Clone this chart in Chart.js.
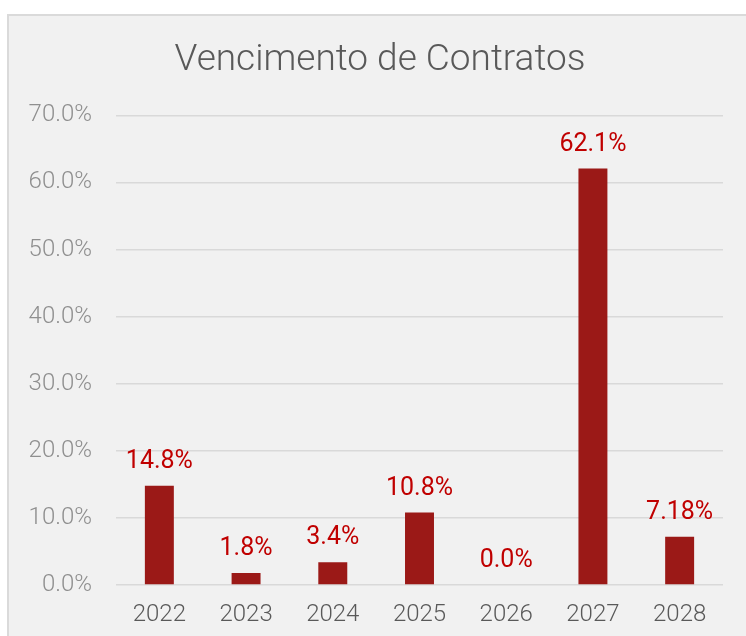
<!DOCTYPE html>
<html>
<head>
<meta charset="utf-8">
<script src="https://cdn.jsdelivr.net/npm/chart.js@4/dist/chart.umd.min.js"></script>
<style>
  html, body { margin: 0; padding: 0; background: #fff; }
  #panel {
    position: absolute; left: 7px; top: 14px; width: 760px; height: 640px;
    background: #f1f1f1; border: 2px solid #dadada; box-sizing: border-box;
  }
  #wrap { position: absolute; left: 0; top: 0; width: 746px; height: 636px; }
</style>
</head>
<body>
<div id="panel"></div>
<div id="wrap"><canvas id="chart" width="746" height="636"></canvas></div>
<script>
// --- 데이터 ---
const years = ["2022", "2023", "2024", "2025", "2026", "2027", "2028"];
const shares = [14.8, 1.8, 3.4, 10.8, 0.0, 62.1, 7.18];
const yTicks = [0, 10, 20, 30, 40, 50, 60, 70];

const fmt = (v) => (Number.isInteger(v) ? v.toFixed(1) : String(v)) + "%";

// 막대 위 값 표시
const valueLabels = {
  id: "valueLabels",
  afterDatasetsDraw(chart) {
    const ctx = chart.ctx;
    const meta = chart.getDatasetMeta(0);
    ctx.save();
    ctx.font = "400 25px Roboto";
    ctx.fillStyle = "#c00000";
    ctx.textAlign = "center";
    ctx.textBaseline = "middle";
    meta.data.forEach((bar, i) => {
      ctx.fillText(fmt(shares[i]), bar.x, bar.y - 24);
    });
    ctx.restore();
  },
};

new Chart(document.getElementById("chart"), {
  type: "bar",
  data: {
    labels: years,
    datasets: [
      {
        data: shares,
        backgroundColor: "#9b1917",
        barPercentage: 0.334,
        categoryPercentage: 1,
      },
    ],
  },
  options: {
    responsive: false,
    animation: false,
    layout: { padding: { left: 14, right: 0, top: 0, bottom: 0 } },
    plugins: {
      legend: { display: false },
      tooltip: { enabled: false },
      title: {
        display: true,
        text: "Vencimento de Contratos",
        color: "#595959",
        font: { family: "Roboto", size: 37, weight: "300", lineHeight: 1.2 },
        padding: { top: 39, bottom: 32 },
      },
    },
    scales: {
      x: {
        grid: { display: false, drawTicks: false },
        border: { display: false },
        ticks: {
          color: "#595959",
          padding: 16,
          font: { family: "Roboto", size: 24, weight: "300" },
        },
        afterFit: (s) => { s.height = 51; },
      },
      y: {
        min: 0,
        max: 70,
        afterBuildTicks: (s) => { s.ticks = yTicks.map((v) => ({ value: v })); },
        grid: { color: "#d9d9d9", lineWidth: 1.5, drawTicks: false },
        border: { display: false },
        ticks: {
          color: "#8f8f8f",
          padding: 24,
          font: { family: "Roboto", size: 24, weight: "300" },
          callback: (v) => v.toFixed(1) + "%",
        },
        afterFit: (s) => { s.width = 102; },
      },
      // 오른쪽 여백용 빈 축
      yRight: {
        position: "right",
        grid: { display: false, drawTicks: false },
        border: { display: false },
        ticks: { display: false },
        afterFit: (s) => { s.width = 23; },
      },
    },
  },
  plugins: [valueLabels],
});
</script>
</body>
</html>
